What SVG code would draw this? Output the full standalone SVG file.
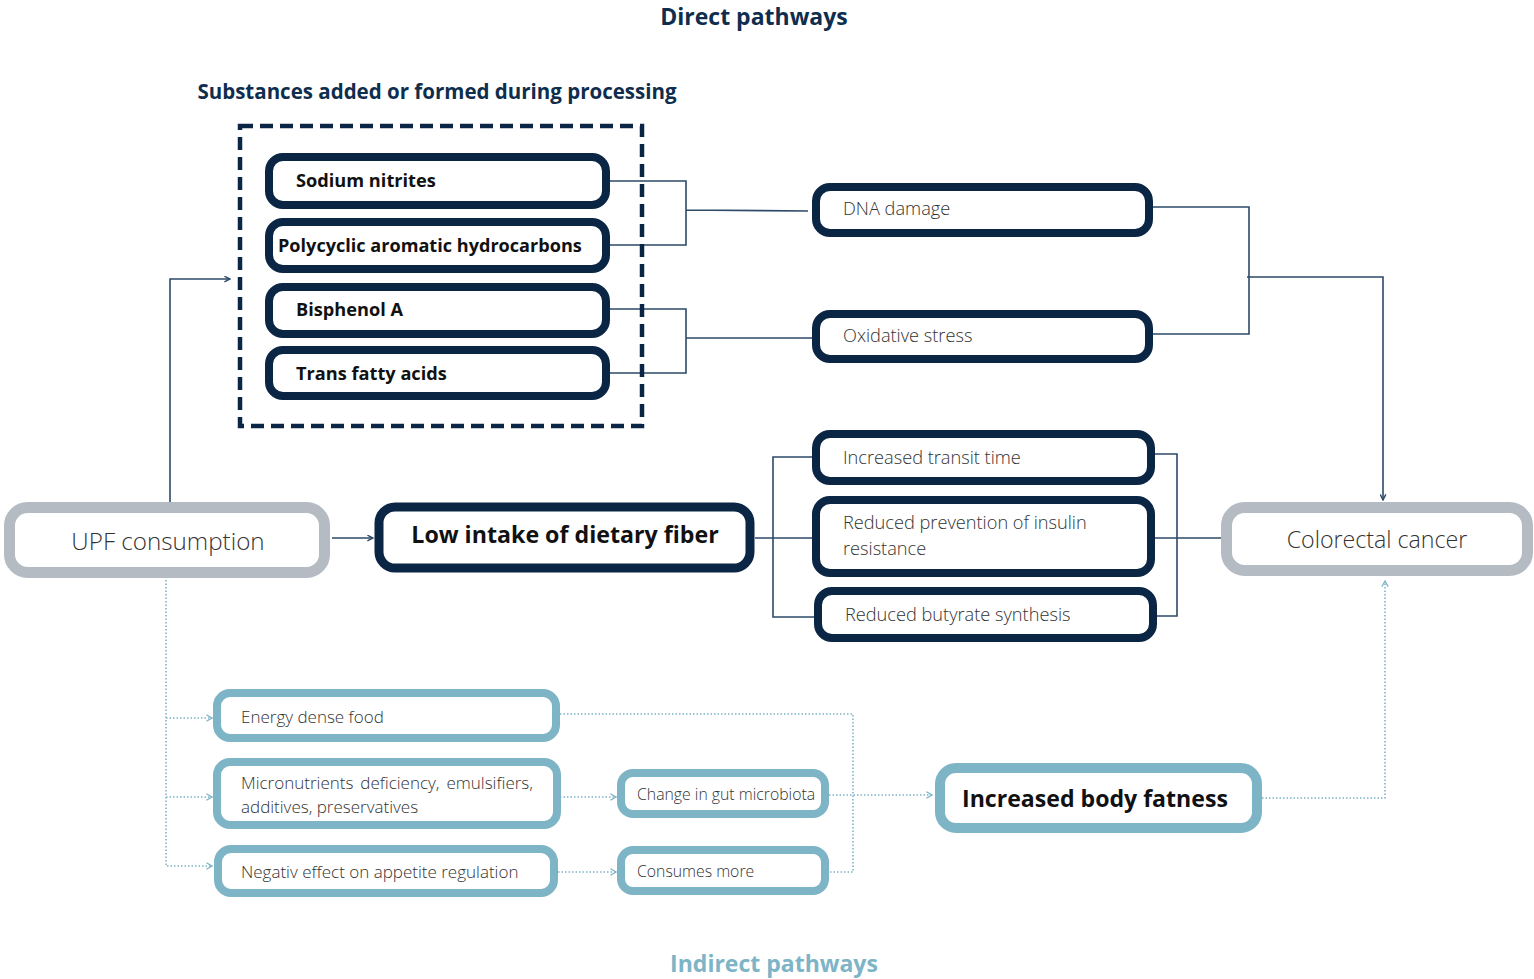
<svg xmlns="http://www.w3.org/2000/svg" width="1534" height="979" viewBox="0 0 1534 979">
<style>
text{font-family:"Open Sans","Noto Sans","Liberation Sans",sans-serif}
.title{font-weight:700;fill:#0f2d4d}
.dark{fill:#fff;stroke:#0b2545;stroke-width:8}
.gray{fill:#fff;stroke:#b5bbc3;stroke-width:11}
.blue{fill:#fff;stroke:#7db4c6;stroke-width:8}
.b{font-weight:700;fill:#111}
.l{font-weight:300;fill:#333}
.ln{fill:none;stroke:#2d4a68;stroke-width:1.6}
.dl{fill:none;stroke:#7db4c6;stroke-width:1.6;stroke-dasharray:1.5 2}
</style>
<defs>
<marker id="ad" viewBox="0 0 10 10" refX="9" refY="5" markerWidth="7" markerHeight="7" markerUnits="userSpaceOnUse" orient="auto">
<path d="M1,1 L9,5 L1,9" fill="none" stroke="#2d4a68" stroke-width="2"/>
</marker>
<marker id="ab" viewBox="0 0 10 10" refX="9" refY="5" markerWidth="8" markerHeight="8" markerUnits="userSpaceOnUse" orient="auto">
<path d="M2,1 L9,5 L2,9" fill="none" stroke="#7db4c6" stroke-width="1.6"/>
</marker>
</defs>
<text class="title" x="754" y="25" font-size="23" text-anchor="middle">Direct pathways</text>
<text class="title" x="437" y="99" font-size="20.5" text-anchor="middle">Substances added or formed during processing</text>
<text x="774" y="972" font-size="23" fill="#7db4c6" text-anchor="middle" style="font-weight:700">Indirect pathways</text>
<g id="connectors">
<path class="ln" d="M610,181 H686 V245 H610 M686,210 L808,211"/>
<path class="ln" d="M610,309 H686 V373 H610 M686,338 H812"/>
<path class="ln" d="M1153,207 H1249 V334 H1153 M1247,277 H1383 V500" marker-end="url(#ad)"/>
<path class="ln" d="M170,502 V279 H230" marker-end="url(#ad)"/>
<path class="ln" d="M332,538 H373" marker-end="url(#ad)"/>
<path class="ln" d="M755,538 H812 M812,457 H773 V617 H814"/>
<path class="ln" d="M1153,454 H1177 V616 H1155 M1153,538 H1221"/>
<path class="dl" d="M166,580 V866 H212" marker-end="url(#ab)"/>
<path class="dl" d="M166,718 H212" marker-end="url(#ab)"/>
<path class="dl" d="M166,797 H212" marker-end="url(#ab)"/>
<path class="dl" d="M560,797 H616" marker-end="url(#ab)"/>
<path class="dl" d="M558,872 H616" marker-end="url(#ab)"/>
<path class="dl" d="M560,714 H853 V872 H829"/>
<path class="dl" d="M829,795 H932" marker-end="url(#ab)"/>
<path class="dl" d="M1262,798 H1385 V581" marker-end="url(#ab)"/>
</g>
<g id="substances-box">
<rect x="240" y="126" width="402" height="300" fill="none" stroke="#0b2545" stroke-width="4.5" stroke-dasharray="13 7"/>
</g>
<g id="sodium-nitrites">
<rect class="dark" x="269" y="157" width="337" height="48" rx="14"/>
<text class="b" x="296" y="187" font-size="18.2">Sodium nitrites</text>
</g>
<g id="pah">
<rect class="dark" x="269" y="222" width="337" height="47" rx="14"/>
<text class="b" x="278" y="252" font-size="18.1">Polycyclic aromatic hydrocarbons</text>
</g>
<g id="bisphenol">
<rect class="dark" x="269" y="287" width="337" height="47" rx="14"/>
<text class="b" x="296" y="316" font-size="18.2">Bisphenol A</text>
</g>
<g id="trans-fat">
<rect class="dark" x="269" y="350" width="337" height="46" rx="14"/>
<text class="b" x="296" y="380" font-size="18.2">Trans fatty acids</text>
</g>
<g id="dna-damage">
<rect class="dark" x="816" y="187" width="333" height="46" rx="14"/>
<text class="l" x="843" y="215" font-size="18.2">DNA damage</text>
</g>
<g id="oxidative-stress">
<rect class="dark" x="816" y="314" width="333" height="45" rx="14"/>
<text class="l" x="843" y="342" font-size="18.2">Oxidative stress</text>
</g>
<g id="upf">
<rect class="gray" x="9.5" y="507.5" width="315" height="65" rx="18"/>
<text class="l" x="168" y="550" font-size="24.2" text-anchor="middle">UPF consumption</text>
</g>
<g id="fiber">
<rect x="379" y="507" width="371" height="61" rx="16" fill="#fff" stroke="#0b2545" stroke-width="9"/>
<text class="b" x="565" y="543" font-size="23.2" text-anchor="middle">Low intake of dietary fiber</text>
</g>
<g id="transit">
<rect class="dark" x="816" y="434" width="335" height="47" rx="14"/>
<text class="l" x="843" y="464" font-size="18.2">Increased transit time</text>
</g>
<g id="insulin">
<rect class="dark" x="816" y="500" width="335" height="73" rx="14"/>
<text class="l" x="843" y="529" font-size="18.2">Reduced prevention of insulin</text>
<text class="l" x="843" y="555" font-size="18.2">resistance</text>
</g>
<g id="butyrate">
<rect class="dark" x="818" y="591" width="335" height="47" rx="14"/>
<text class="l" x="845" y="621" font-size="18.2">Reduced butyrate synthesis</text>
</g>
<g id="colorectal">
<rect class="gray" x="1226.5" y="507.5" width="301" height="63" rx="18"/>
<text class="l" x="1377" y="548" font-size="23.2" text-anchor="middle">Colorectal cancer</text>
</g>
<g id="energy-dense">
<rect class="blue" x="217" y="693" width="339" height="45" rx="13"/>
<text class="l" x="241" y="723" font-size="17">Energy dense food</text>
</g>
<g id="micronutrients">
<rect class="blue" x="217" y="762" width="340" height="63" rx="13"/>
<text class="l" x="241" y="789" font-size="17" word-spacing="2.5">Micronutrients deficiency, emulsifiers,</text>
<text class="l" x="241" y="813" font-size="17">additives, preservatives</text>
</g>
<g id="appetite">
<rect class="blue" x="218" y="849" width="336" height="44" rx="13"/>
<text class="l" x="241" y="878" font-size="17">Negativ effect on appetite regulation</text>
</g>
<g id="gut-microbiota">
<rect class="blue" x="621" y="773" width="204" height="41" rx="12"/>
<text class="l" x="637" y="800" font-size="15.8">Change in gut microbiota</text>
</g>
<g id="consumes-more">
<rect class="blue" x="621" y="850" width="204" height="41" rx="12"/>
<text class="l" x="637" y="877" font-size="15.8">Consumes more</text>
</g>
<g id="body-fatness">
<rect x="940" y="768" width="317" height="60" rx="16" fill="#fff" stroke="#7db4c6" stroke-width="10"/>
<text class="b" x="962" y="807" font-size="23.1">Increased body fatness</text>
</g>
</svg>
